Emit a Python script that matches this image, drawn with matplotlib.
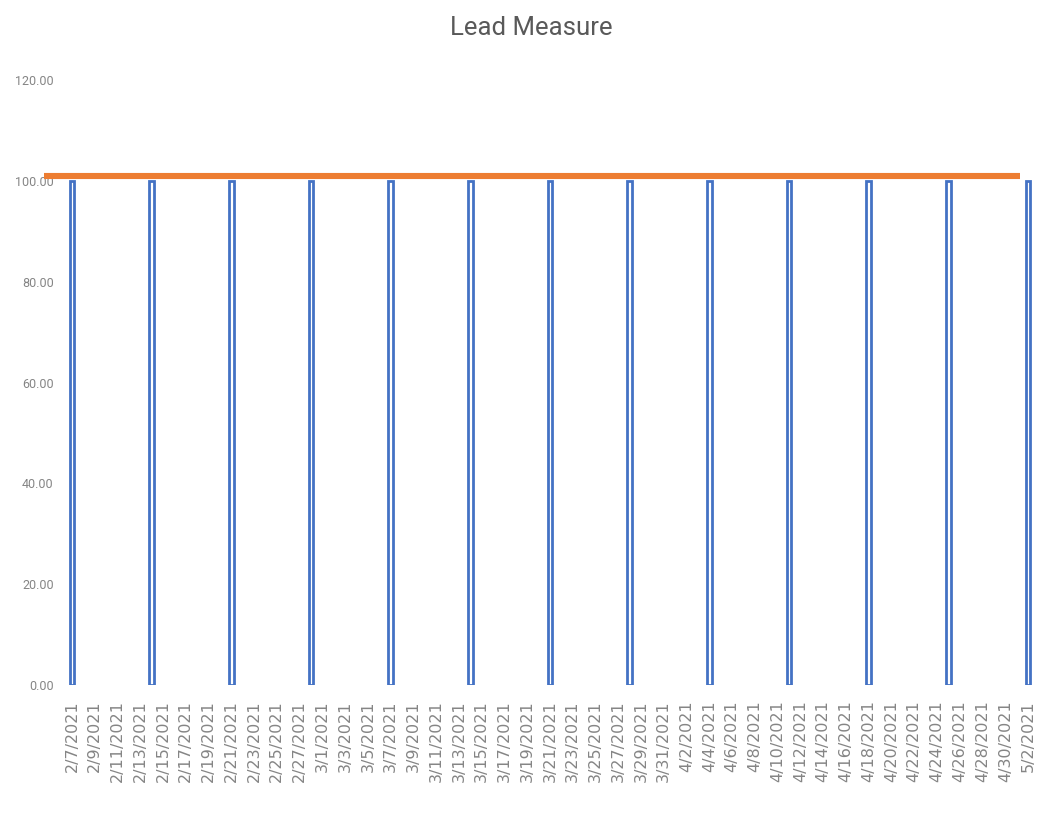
import numpy as np
import pandas as pd
import matplotlib
matplotlib.use('Agg')
import matplotlib.pyplot as plt

# weekly lead measure values
week_dates = pd.date_range('2021-02-07', '2021-05-02', freq='7D')
lead_values = [100, 100, 100, 100, 100, 100, 100, 100, 100, 100, 100, 100, 100]

# target line (orange)
target_value = 101
target_dates = pd.to_datetime(['2021-02-04 14:00', '2021-05-01 07:00'])

# x tick labels, every 2 days
tick_dates = pd.date_range('2021-02-07', '2021-05-02', freq='2D')
tick_labels = [f'{d.month}/{d.day}/{d.year}' for d in tick_dates]
y_ticks = [0, 20, 40, 60, 80, 100, 120]

narrow = ['Roboto', 'DejaVu Sans']
gray = '#858585'

fig = plt.figure(figsize=(10.43, 8.15), dpi=100)
ax = fig.add_axes([0.0594, 0.1595, 0.9358, 0.7423])

ax.bar(week_dates, lead_values, width=0.42, facecolor='white',
       edgecolor='#4472C4', linewidth=2.0, zorder=2)
ax.plot(target_dates, [target_value] * 2, color='#ED7D31', linewidth=4.4,
        solid_capstyle='butt', clip_on=False, zorder=3)

ax.set_xlim(week_dates[0] - pd.Timedelta(hours=21), week_dates[-1] + pd.Timedelta(hours=21))
ax.set_ylim(0, 120)
ax.set_xticks(tick_dates)
ax.set_xticklabels(tick_labels, rotation=90, fontsize=11.5, color=gray, family='DejaVu Sans')
ax.set_yticks(y_ticks)
ax.set_yticklabels([f'{v:.2f}' for v in y_ticks], fontsize=9, color=gray, family=narrow)
ax.tick_params(axis='both', length=0)
ax.tick_params(axis='x', pad=11)
ax.tick_params(axis='y', pad=6)
for s in ax.spines.values():
    s.set_visible(False)

fig.text(0.509, 0.9656, 'Lead Measure', ha='center', va='center', fontsize=18.5,
         color='#595959', family=narrow)

fig.savefig('out.png', dpi=100)
